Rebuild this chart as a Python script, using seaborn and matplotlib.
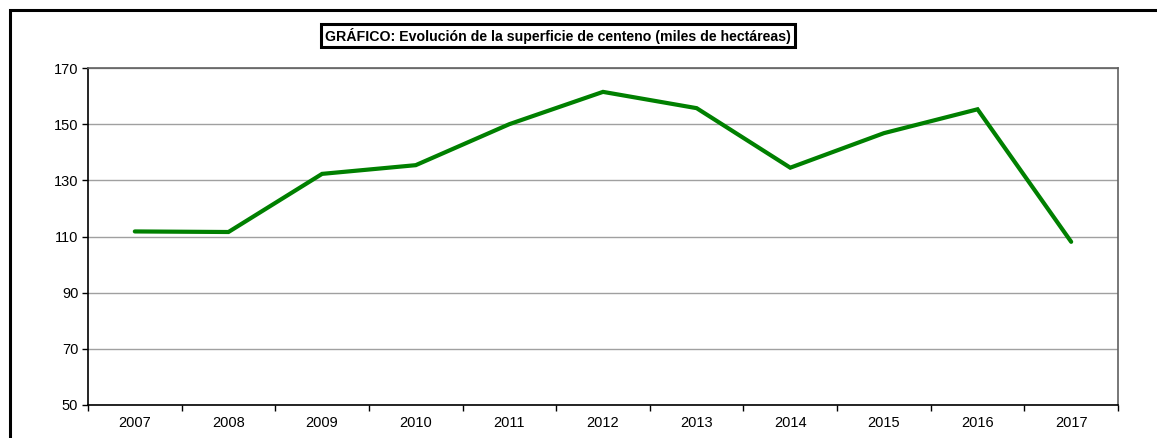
import matplotlib
matplotlib.use("Agg")
import matplotlib.pyplot as plt
import seaborn as sns
import pandas as pd
import numpy as np
from matplotlib.patches import Rectangle

years = ["2007", "2008", "2009", "2010", "2011", "2012", "2013", "2014", "2015", "2016", "2017"]
superficie = [111.8, 111.6, 132.3, 135.4, 150.0, 161.5, 155.7, 134.5, 146.8, 155.3, 108.1]
y_ticks = [50, 70, 90, 110, 130, 150, 170]
title = "GRÁFICO: Evolución de la superficie de centeno (miles de hectáreas)"

sns.set_theme(style="white")
plt.rcParams["font.family"] = ["Liberation Sans", "DejaVu Sans"]

W, H = 1157, 438
fig = plt.figure(figsize=(W / 100, H / 100), dpi=100)
fig.patch.set_facecolor("white")

ax = fig.add_axes([88 / W, (H - 405) / H, (1118 - 88) / W, (405 - 68) / H])

df = pd.DataFrame({"year": years, "value": superficie})
df["pos"] = np.arange(len(years))
sns.lineplot(data=df, x="pos", y="value", ax=ax, color="#008000", linewidth=3.0,
             solid_joinstyle="miter", solid_capstyle="round", legend=False)

ax.set_xlim(-0.5, len(years) - 0.5)
ax.set_ylim(50, 170)
ax.set_yticks(y_ticks)
ax.set_yticklabels([str(v) for v in y_ticks], fontsize=10.5, color="black")
ax.yaxis.grid(True, color="#a0a0a0", linewidth=1.0)
ax.set_axisbelow(True)

ax.set_xticks(np.arange(-0.5, len(years), 1.0))
ax.set_xticklabels([])
ax.set_xticks(np.arange(len(years)), minor=True)
ax.set_xticklabels(years, minor=True, fontsize=10.5, color="black")
ax.tick_params(axis="x", which="major", direction="out", length=4, width=1, color="black", bottom=True)
ax.tick_params(axis="x", which="minor", length=0, pad=8)
ax.tick_params(axis="y", which="major", direction="out", length=4, width=1, color="black", left=True, pad=3)

ax.set_xlabel("")
ax.set_ylabel("")

ax.spines["left"].set_color("black")
ax.spines["bottom"].set_color("black")
ax.spines["left"].set_linewidth(1.2)
ax.spines["bottom"].set_linewidth(1.2)
ax.spines["top"].set_color("#606060")
ax.spines["right"].set_color("#606060")
ax.spines["top"].set_linewidth(1.2)
ax.spines["right"].set_linewidth(1.2)

# outer chart border (extends past the right and bottom image edges)
fig.add_artist(Rectangle((10 / W, -0.1), 1.2, (H - 10) / H + 0.1, transform=fig.transFigure,
                         fill=False, edgecolor="black", linewidth=2.2))

fig.text(558 / W, (H - 35.5) / H, title, ha="center", va="center", fontsize=10.2, fontweight="bold",
         color="black",
         bbox=dict(boxstyle="square,pad=0.28", facecolor="white", edgecolor="black", linewidth=2.2))

fig.savefig("out.png", dpi=100, facecolor="white")
